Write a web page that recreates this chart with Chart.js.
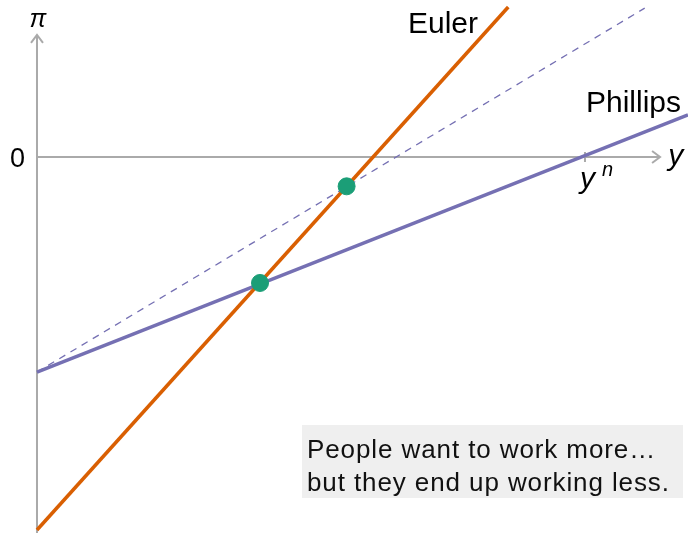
<!DOCTYPE html>
<html>
<head>
<meta charset="utf-8">
<script src="https://cdn.jsdelivr.net/npm/chart.js@4.4.1/dist/chart.umd.min.js"></script>
<style>
  html, body { margin: 0; padding: 0; background: #fff; }
  #wrap { width: 688px; height: 533px; }
</style>
</head>
<body>
<div id="wrap"><canvas id="my-chart"></canvas></div>
<script>
// ===== data (output y on x, inflation pi on y) =====
const yNatural = 10
const eulerLine = [[0, -9.92], [8.6, 3.99]]
const phillipsLine = [[0, -5.72], [11.88, 1.12]]
const phillipsShifted = [[0, -5.72], [11.09, 3.96]]
const equilibria = [[4.07, -3.35], [5.65, -0.78]]
const noteLines = ['People want to work more…', 'but they end up working less.']

const ORANGE = '#d95f02'
const PURPLE = '#7570b3'
const GREEN = '#1b9e77'
const AXIS = '#aaaaaa'
const FONT = '"Liberation Sans", Arial, sans-serif'

const toXY = arr => arr.map(p => ({ x: p[0], y: p[1] }))

// axes with arrow heads, drawn under the lines
const axesPlugin = {
    id: 'axes',
    beforeDatasetsDraw(chart) {
        const { ctx, scales: { x, y } } = chart
        const x0 = x.getPixelForValue(0)
        const y0 = y.getPixelForValue(0)
        const top = y.getPixelForValue(3.25)
        const right = x.getPixelForValue(11.37)
        const bottom = y.getPixelForValue(y.min)
        ctx.save()
        ctx.strokeStyle = AXIS
        ctx.lineWidth = 2
        ctx.beginPath()
        ctx.moveTo(x0, bottom)
        ctx.lineTo(x0, top)
        ctx.moveTo(x0, y0)
        ctx.lineTo(right, y0)
        // arrow heads
        ctx.moveTo(x0 - 6, top + 8)
        ctx.lineTo(x0, top)
        ctx.lineTo(x0 + 6, top + 8)
        ctx.moveTo(right - 8, y0 - 6)
        ctx.lineTo(right, y0)
        ctx.lineTo(right - 8, y0 + 6)
        // natural output tick
        const xn = x.getPixelForValue(yNatural)
        ctx.moveTo(xn, y0 - 5)
        ctx.lineTo(xn, y0 + 5)
        ctx.stroke()
        ctx.restore()
    }
}

// axis names, curve names and the note box
const labelsPlugin = {
    id: 'labels',
    afterDraw(chart) {
        const { ctx, scales: { x, y } } = chart
        const x0 = x.getPixelForValue(0)
        const y0 = y.getPixelForValue(0)
        ctx.save()
        ctx.fillStyle = '#000'
        ctx.textBaseline = 'alphabetic'

        ctx.font = 'italic 25px ' + FONT
        ctx.textAlign = 'center'
        ctx.fillText('π', x0 + 1, 27)

        ctx.font = '27px ' + FONT
        ctx.textAlign = 'right'
        ctx.fillText('0', x0 - 12, y0 + 10)

        ctx.font = 'italic 30px ' + FONT
        ctx.textAlign = 'left'
        ctx.fillText('y', x.getPixelForValue(11.52), y0 + 8)

        const xn = x.getPixelForValue(yNatural)
        ctx.fillText('y', xn - 5, y0 + 31)
        ctx.font = 'italic 20px ' + FONT
        ctx.fillText('n', xn + 17, y0 + 19)

        ctx.font = '30px ' + FONT
        ctx.fillText('Euler', 408, 33)
        ctx.fillText('Phillips', 586, 112)

        // note box
        ctx.fillStyle = '#efefef'
        ctx.fillRect(302, 425, 381, 73)
        ctx.fillStyle = '#111'
        ctx.font = '26px ' + FONT
        ctx.letterSpacing = '0.9px'
        noteLines.forEach((t, i) => ctx.fillText(t, 307, 458 + i * 33))
        ctx.restore()
    }
}

new Chart(document.getElementById('my-chart'), {
    type: 'scatter',
    data: {
        // first dataset is painted last, so the dots sit on top
        datasets: [
            {
                label: 'Equilibria',
                data: toXY(equilibria),
                backgroundColor: GREEN,
                borderColor: GREEN,
                pointRadius: 8.5,
                pointHoverRadius: 8.5
            },
            {
                label: 'Euler',
                data: toXY(eulerLine),
                showLine: true,
                borderColor: ORANGE,
                borderWidth: 3.5,
                pointRadius: 0
            },
            {
                label: 'Phillips',
                data: toXY(phillipsLine),
                showLine: true,
                borderColor: PURPLE,
                borderWidth: 3.5,
                pointRadius: 0
            },
            {
                label: 'Phillips shifted',
                data: toXY(phillipsShifted),
                showLine: true,
                borderColor: PURPLE,
                borderWidth: 1.3,
                borderDash: [7, 6],
                pointRadius: 0
            }
        ]
    },
    options: {
        responsive: true,
        maintainAspectRatio: false,
        animation: false,
        layout: { padding: 0, autoPadding: false },
        plugins: { legend: { display: false }, tooltip: { enabled: false } },
        scales: {
            x: { type: 'linear', display: false, min: -0.675, max: 11.88 },
            y: { type: 'linear', display: false, min: -10, max: 4.176 }
        }
    },
    plugins: [axesPlugin, labelsPlugin]
})
</script>
</body>
</html>
